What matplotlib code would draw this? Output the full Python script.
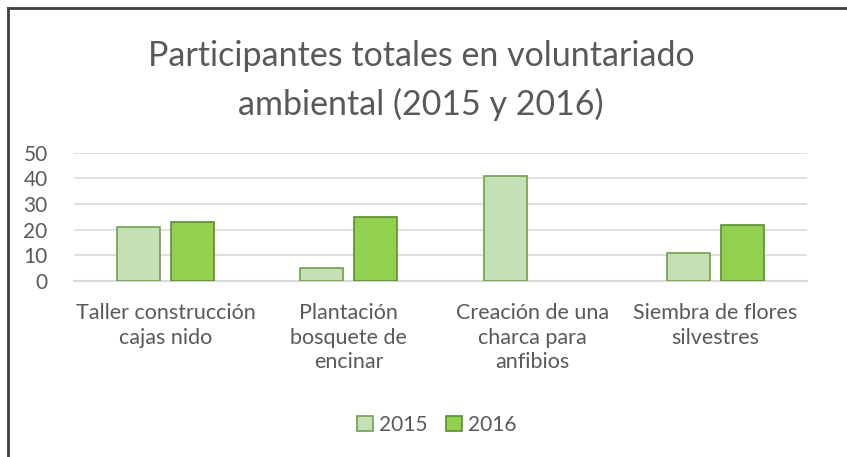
import numpy as np
import matplotlib.pyplot as plt
from matplotlib.lines import Line2D

plt.rcParams['font.family'] = ['Lato', 'DejaVu Sans']

# datos
categorias = ["Taller construcción\ncajas nido",
              "Plantación\nbosquete de\nencinar",
              "Creación de una\ncharca para\nanfibios",
              "Siembra de flores\nsilvestres"]
v2015 = [21, 5, 41, 11]
v2016 = [23, 25, 0, 22]
yticks = [0, 10, 20, 30, 40, 50]

gris = '#595959'

fig = plt.figure(figsize=(8.47, 4.57), dpi=100)
ax = fig.add_axes([74 / 847, 1 - 281 / 457, 733 / 847, 128.3 / 457])

x = np.arange(len(categorias))
w = 0.235
gap = 0.06
# sin borde para barras de valor 0
ec15 = ['#6f9e4f' if v > 0 else 'none' for v in v2015]
ec16 = ['#5b8f32' if v > 0 else 'none' for v in v2016]
ax.bar(x - (w + gap) / 2, v2015, w, color='#c5e0b4', edgecolor=ec15, linewidth=1.2, label='2015', zorder=3)
ax.bar(x + (w + gap) / 2, v2016, w, color='#92d050', edgecolor=ec16, linewidth=1.2, label='2016', zorder=3)

ax.set_xlim(-0.5, len(categorias) - 0.5)
ax.set_ylim(0, 50)
ax.set_yticks(yticks)
ax.set_xticks(x)
ax.set_xticklabels(categorias, fontsize=15.5, color=gris, linespacing=1.27)
ax.tick_params(axis='y', labelsize=15, labelcolor=gris, length=0, pad=19)
ax.tick_params(axis='x', length=0, pad=16)
ax.grid(axis='y', color='#d9d9d9', linewidth=1.2, zorder=0)
for s in ['top', 'right', 'left']:
    ax.spines[s].set_visible(False)
ax.spines['bottom'].set_color('#d9d9d9')
ax.spines['bottom'].set_linewidth(1.5)

fig.text(0.497, 1 - 56 / 457, "Participantes totales en voluntariado", ha='center', va='center',
         fontsize=24.5, color=gris)
fig.text(0.497, 1 - 104 / 457, "ambiental (2015 y 2016)", ha='center', va='center',
         fontsize=24.5, color=gris)

fig.legend(loc='center', bbox_to_anchor=(0.516, 1 - 425 / 457), ncol=2, frameon=False,
           fontsize=15, labelcolor=gris, handlelength=0.75, handleheight=0.75,
           handletextpad=0.3, columnspacing=0.9)

# borde del gráfico (solo arriba e izquierda)
fig.add_artist(Line2D([8 / 847, 8 / 847], [0, 1 - 8 / 457], color='#404040', linewidth=2))
fig.add_artist(Line2D([8 / 847, 1], [1 - 8 / 457, 1 - 8 / 457], color='#404040', linewidth=2))

fig.savefig('out.png', dpi=100)
